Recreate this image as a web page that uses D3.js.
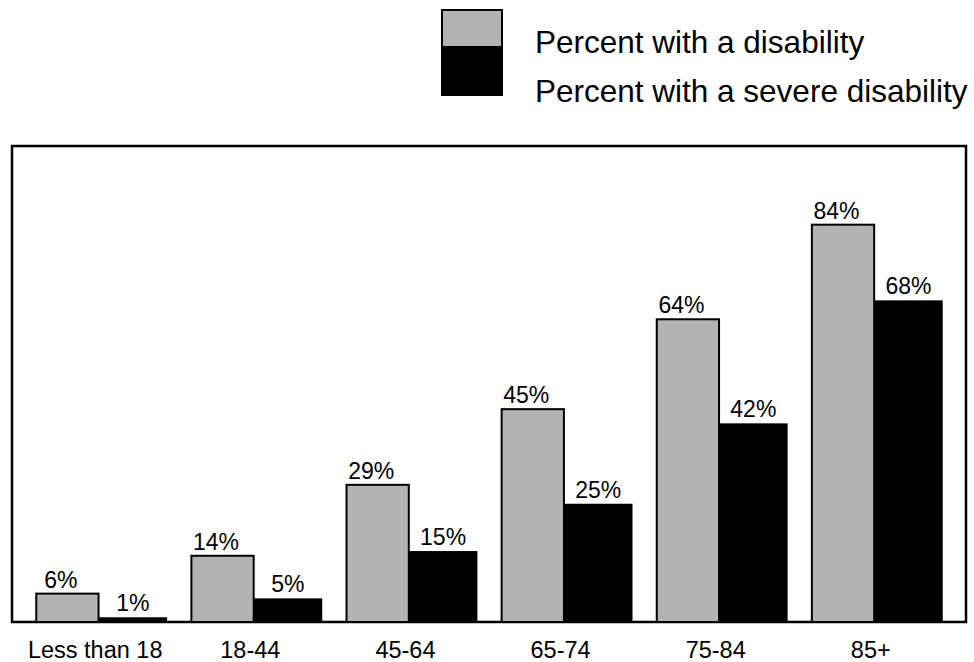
<!DOCTYPE html>
<html>
<head>
<meta charset="utf-8">
<script src="https://cdn.jsdelivr.net/npm/d3@7"></script>
<style>
  html, body { margin: 0; padding: 0; background: #fff; }
  svg { display: block; font-family: "Liberation Sans", Arial, Helvetica, sans-serif; }
</style>
</head>
<body>
<svg id="chart" width="974" height="662"></svg>
<script>
// Age groups and the two prevalence series (percent)
const categories = ["Less than 18", "18-44", "45-64", "65-74", "75-84", "85+"];
const disability = [6, 14, 29, 45, 64, 84];
const severe = [1, 5, 15, 25, 42, 68];
const seriesNames = ["Percent with a disability", "Percent with a severe disability"];

const plot = { left: 12, top: 146, right: 966, bottom: 622 };

const svg = d3.select("#chart");

const x = d3.scaleBand()
  .domain(categories)
  .range([plot.left, plot.right])
  .paddingInner(0.15)
  .paddingOuter(0.15);

const y = d3.scaleLinear()
  .domain([0, 100])
  .range([plot.bottom, 149]);

const grayFill = "#b3b3b3";
const grayShare = 0.48; // fraction of each group taken by the grey bar

const rows = categories.map((c, i) => ({ cat: c, all: disability[i], sev: severe[i] }));

// frame around the plotting area
svg.append("rect")
  .attr("x", plot.left).attr("y", plot.top)
  .attr("width", plot.right - plot.left).attr("height", plot.bottom - plot.top)
  .attr("fill", "none").attr("stroke", "#000").attr("stroke-width", 2.5);

const g = svg.append("g");

const grayW = x.bandwidth() * grayShare;
const blackW = x.bandwidth() - grayW;

// grey bars: any disability
g.selectAll("rect.all").data(rows).join("rect")
  .attr("class", "all")
  .attr("x", d => x(d.cat) + 1)
  .attr("y", d => y(d.all))
  .attr("width", grayW - 1)
  .attr("height", d => y(0) - y(d.all))
  .attr("fill", grayFill)
  .attr("stroke", "#000")
  .attr("stroke-width", 2);

// black bars: severe disability
g.selectAll("rect.sev").data(rows).join("rect")
  .attr("class", "sev")
  .attr("x", d => x(d.cat) + grayW)
  .attr("y", d => y(d.sev))
  .attr("width", blackW)
  .attr("height", d => y(0) - y(d.sev))
  .attr("fill", "#000");

// value labels
g.selectAll("text.lall").data(rows).join("text")
  .attr("class", "lall")
  .attr("x", d => x(d.cat) + grayW / 2 - 6)
  .attr("y", d => y(d.all) - 6)
  .attr("text-anchor", "middle")
  .attr("font-size", 23)
  .text(d => d.all + "%");

g.selectAll("text.lsev").data(rows).join("text")
  .attr("class", "lsev")
  .attr("x", d => x(d.cat) + grayW + blackW / 2)
  .attr("y", d => y(d.sev) - 6)
  .attr("text-anchor", "middle")
  .attr("font-size", 23)
  .text(d => d.sev + "%");

// category axis
const xAxis = svg.append("g")
  .attr("transform", `translate(-6,${plot.bottom})`)
  .call(d3.axisBottom(x).tickSize(0).tickPadding(36));
xAxis.select(".domain").remove();
xAxis.selectAll("text")
  .attr("font-size", 23.5)
  .attr("font-family", "Liberation Sans, Arial, sans-serif")
  .attr("fill", "#000")
  .attr("dy", 0);

// legend
const legend = svg.append("g");
legend.append("rect")
  .attr("x", 442).attr("y", 10).attr("width", 60).attr("height", 37)
  .attr("fill", grayFill).attr("stroke", "#000").attr("stroke-width", 2);
legend.append("rect")
  .attr("x", 441).attr("y", 48).attr("width", 62).attr("height", 48)
  .attr("fill", "#000");
legend.selectAll("text").data(seriesNames).join("text")
  .attr("x", 535)
  .attr("y", (d, i) => 53 + i * 49)
  .attr("font-size", 31.5)
  .text(d => d);
</script>
</body>
</html>
